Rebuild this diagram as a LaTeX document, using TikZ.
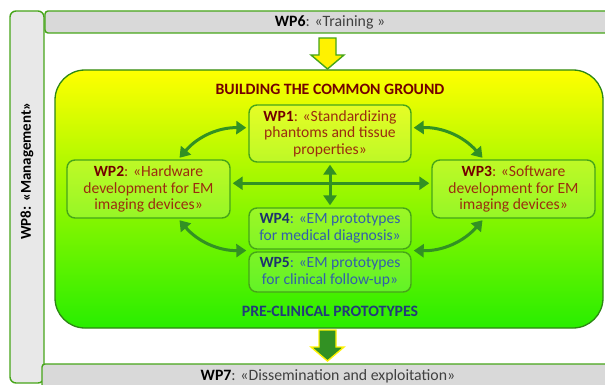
\documentclass[tikz,border=0pt]{standalone}
\usepackage{fontspec}
\setmainfont{Carlito}
\usetikzlibrary{arrows.meta,calc}

\definecolor{wpgreen}{RGB}{70,165,25}
\definecolor{linkgreen}{RGB}{50,145,35}
\definecolor{framegreen}{RGB}{45,135,20}
\definecolor{lowgreen}{RGB}{40,238,0}
\definecolor{wpred}{RGB}{115,0,0}
\definecolor{bodyred}{RGB}{155,45,15}
\definecolor{wpnavy}{RGB}{30,50,110}
\definecolor{bodyblue}{RGB}{50,95,170}
\definecolor{bargray}{RGB}{217,217,217}
\definecolor{sidegray}{RGB}{232,232,232}

\tikzset{
  wpbox/.style={draw=wpgreen, line width=1.4pt, rounded corners=8pt, fill=white, fill opacity=0.15,
    text opacity=1, align=center, inner sep=1pt, minimum width=162pt,
    font=\fontsize{15.6}{16.5}\selectfont},
  barbox/.style={draw=wpgreen, line width=1.4pt, rounded corners=3pt, fill=bargray,
    font=\fontsize{15.8}{17}\selectfont},
  link/.style={draw=linkgreen, line width=3pt, {Triangle[length=10pt,width=13pt]}-{Triangle[length=10pt,width=13pt]},
    shorten >=2pt, shorten <=2pt}
}

\begin{document}
\begin{tikzpicture}[x=1pt,y=-1pt]

\useasboundingbox (0,0) rectangle (605,385);

% side and top/bottom bars
\node[barbox, fill=sidegray, rounded corners=6pt, minimum width=34pt, minimum height=372pt] (wp8) at (27,197) {};
\node[rotate=90, font=\fontsize{15}{17}\selectfont\bfseries] (wp8text) at (27,171) {WP8: «Management»};
\node[barbox, minimum width=570pt, minimum height=22pt] (wp6) at (330,22)
  {\textbf{WP6}\textcolor{black!75}{: «Training »}};
\node[barbox, minimum width=572pt, minimum height=24pt] (wp7) at (328,376)
  {\textbf{WP7}\textcolor{black!75}{: «Dissemination and exploitation»}};

% common ground
\node[draw=framegreen, line width=1.3pt, rounded corners=30pt, top color=yellow, bottom color=lowgreen,
      minimum width=548pt, minimum height=258pt] (ground) at (329,199) {};
\node[font=\fontsize{15.8}{17}\selectfont\bfseries, text=wpred] (buildlabel) at (330,89) {BUILDING THE COMMON GROUND};
\node[font=\fontsize{15.8}{17}\selectfont\bfseries, text=wpnavy!80!bodyblue] (prelabel) at (330,311) {PRE-CLINICAL PROTOTYPES};

% block arrows
\foreach \ytop/\fillc/\drawc in {38/yellow/wpgreen, 330/linkgreen/yellow}
  \draw[fill=\fillc, draw=\drawc, line width=1.4pt, line join=miter]
    (319,\ytop) -- ++(17,0) -- ++(0,17) -- ++(8,0) -- ++(-16.5,14) -- ++(-16.5,-14) -- ++(8,0) -- cycle;

% work packages
\node[wpbox, minimum height=57pt, text=bodyred] (wp1) at (330,133.5)
  {\textcolor{wpred}{\bfseries WP1}: «Standardizing\\ phantoms and tissue\\ properties»};
\node[wpbox, minimum width=163pt, minimum height=58pt, text=bodyred] (wp2) at (148.5,189)
  {\textcolor{wpred}{\bfseries WP2}: «Hardware\\ development for EM\\ imaging devices»};
\node[wpbox, minimum width=163pt, minimum height=58pt, text=bodyred] (wp3) at (513.5,189)
  {\textcolor{wpred}{\bfseries WP3}: «Software\\ development for EM\\ imaging devices»};
\node[wpbox, minimum height=41pt, text=bodyblue] (wp4) at (330,228.5)
  {\textcolor{wpnavy}{\bfseries WP4}: «EM prototypes\\ for medical diagnosis»};
\node[wpbox, minimum height=40pt, text=bodyblue] (wp5) at (330,272)
  {\textcolor{wpnavy}{\bfseries WP5}: «EM prototypes\\ for clinical follow-up»};

\coordinate (wp45) at ($(wp4.south west)!0.5!(wp5.north west)$);
\coordinate (wp45r) at ($(wp4.south east)!0.5!(wp5.north east)$);

% links
\draw[link] (wp2.45) to[bend left=25] (wp1.176);
\draw[link] (wp1.4) to[bend left=25] (wp3.135);
\draw[link] (wp2.-45) to[bend right=25] (wp45);
\draw[link] (wp3.-135) to[bend left=25] (wp45r);
\draw[link] (wp2.4) -- (wp3.176);
\draw[link] (wp1) -- (wp4);

\end{tikzpicture}
\end{document}
